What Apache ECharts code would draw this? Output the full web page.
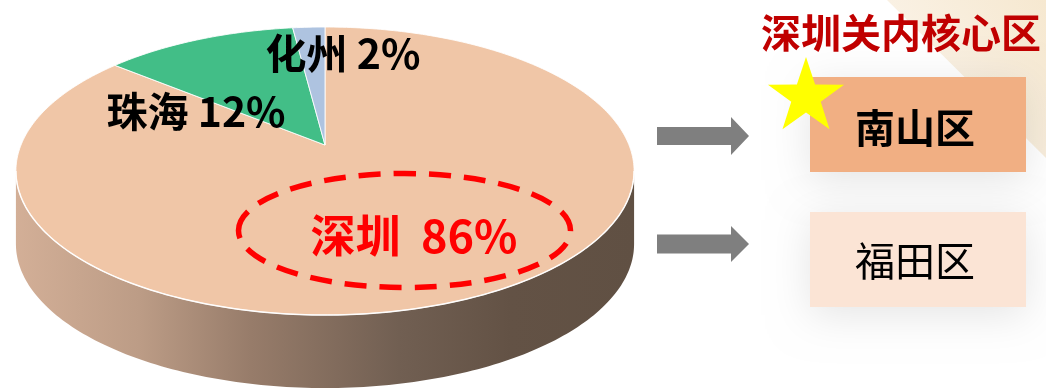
<!DOCTYPE html>
<html><head><meta charset="utf-8">
<script src="https://cdn.jsdelivr.net/npm/echarts@6/dist/echarts.min.js"></script>
<style>html,body{margin:0;padding:0;background:#fff}#c{width:1046px;height:390px}</style>
</head><body><div id="c"></div>
<script>
// ---- data ----
const cities = ['深圳', '珠海', '化州'];
const shares = [86, 12, 2];
const sliceColors = ['#F0C6A7', '#42BE87', '#AEC3E0'];
const coreTitle = '深圳关内核心区';
const districts = ['南山区', '福田区'];

// ---- layout ----
const FONT = '"Noto Sans CJK SC", "Noto Sans", sans-serif';
const P = {cx: 325, cy: 145, A: 304, B: 139.3, k: 0.1806, depth: 73};
const labelLayout = [
  {x: 414, y: 236, size: 45, color: '#FF0000', gap: '  '},
  {x: 196, y: 111, size: 41, color: '#000000', gap: ' '},
  {x: 343, y: 53, size: 41, color: '#000000', gap: ' '}
];

function proj(theta, down) {
  const u = Math.sin(theta), v = -Math.cos(theta);
  const w = 1 - P.k * v;
  return [P.cx + P.A * u / w, P.cy + P.B * v / w + (down || 0)];
}
function arc(a0, a1, down, n) {
  const pts = [];
  for (let s = 0; s <= n; s++) pts.push(proj(a0 + (a1 - a0) * s / n, down));
  return pts;
}

function renderItem(params, api) {
  const i = params.dataIndex;
  const total = shares.reduce((a, b) => a + b, 0);
  let before = 0;
  for (let j = 0; j < i; j++) before += shares[j];
  const a0 = before / total * 2 * Math.PI;
  const a1 = (before + api.value(0)) / total * 2 * Math.PI;
  const children = [];
  const thR = Math.acos(-P.k), thL = 2 * Math.PI - thR;
  const s0 = Math.max(thR, a0), s1 = Math.min(thL, a1);
  if (s1 > s0) {
    const top = arc(s0, s1, 0, 160);
    const bot = arc(s1, s0, P.depth, 160);
    children.push({
      type: 'polygon', shape: {points: top.concat(bot)},
      style: {fill: {type: 'linear', x: 0, y: 0, x2: 1, y2: 0, colorStops: [
        {offset: 0, color: '#D3AF97'}, {offset: 0.2, color: '#BC9C86'},
        {offset: 0.38, color: '#977C6A'}, {offset: 0.62, color: '#715F52'},
        {offset: 0.8, color: '#635245'}, {offset: 1, color: '#605043'}]}}
    });
  }
  const pts = [[P.cx, P.cy]].concat(arc(a0, a1, 0, Math.max(4, Math.round((a1 - a0) * 60))));
  children.push({type: 'polygon', shape: {points: pts},
    style: {fill: sliceColors[i], stroke: 'rgba(255,255,255,0.85)', lineWidth: 1}});
  if (s1 > s0) {
    children.push({type: 'polyline', shape: {points: arc(s0, s1, 0, 160)},
      style: {fill: null, stroke: 'rgba(255,255,255,0.9)', lineWidth: 1.5}});
  }
  const L = labelLayout[i];
  children.push({type: 'text', x: L.x, y: L.y,
    style: {text: cities[i] + L.gap + api.value(0) + '%', fontFamily: FONT, fontWeight: 'bold',
      fontSize: L.size, fill: L.color, align: 'center', verticalAlign: 'middle'}});
  return {type: 'group', children};
}

function starPoints(cx, cy, R, r) {
  const p = [];
  for (let s = 0; s < 10; s++) {
    const a = -Math.PI / 2 + s * Math.PI / 5;
    const rr = s % 2 === 0 ? R : r;
    p.push([cx + rr * Math.cos(a), cy + rr * Math.sin(a)]);
  }
  return p;
}
function arrowPoints(x0, x1, x2, yc, sh, hh) {
  return [[x0, yc - sh], [x1, yc - sh], [x1, yc - hh], [x2, yc], [x1, yc + hh], [x1, yc + sh], [x0, yc + sh]];
}

const chart = echarts.init(document.getElementById('c'), null, {renderer: 'canvas'});
chart.setOption({
  backgroundColor: '#ffffff',
  animation: false,
  series: [{
    type: 'custom', coordinateSystem: 'none', silent: true,
    renderItem,
    data: shares.map((v, i) => ({name: cities[i], value: [v]}))
  }],
  graphic: [
    {type: 'polygon', z: 1, shape: {points: [[887, 0], [1046, 0], [1046, 158]]},
      style: {fill: {type: 'linear', x: 1, y: 0, x2: 0, y2: 0.6, colorStops: [
        {offset: 0, color: '#F6E8D0'}, {offset: 1, color: '#FBF4EA'}]}}},
    {type: 'ellipse', z: 100, shape: {cx: 404.5, cy: 230.5, rx: 166, ry: 57},
      style: {fill: null, stroke: '#FF0000', lineWidth: 5.5, lineDash: [22, 13]}},
    {type: 'rect', z: 100, shape: {x: 810, y: 77, width: 216, height: 95},
      style: {fill: '#F1AF83', shadowBlur: 40, shadowColor: 'rgba(0,0,0,0.10)', shadowOffsetY: 8}},
    {type: 'rect', z: 100, shape: {x: 810, y: 212, width: 216, height: 95},
      style: {fill: '#FBE4D5', shadowBlur: 40, shadowColor: 'rgba(0,0,0,0.10)', shadowOffsetY: 8}},
    {type: 'text', z: 101, x: 901, y: 33,
      style: {text: coreTitle, fontFamily: FONT, fontWeight: 'bold', fontSize: 40, fill: '#C00000', align: 'center', verticalAlign: 'middle'}},
    {type: 'text', z: 101, x: 915, y: 128,
      style: {text: districts[0], fontFamily: FONT, fontWeight: 'bold', fontSize: 40, fill: '#000', align: 'center', verticalAlign: 'middle'}},
    {type: 'text', z: 101, x: 915, y: 261,
      style: {text: districts[1], fontFamily: FONT, fontWeight: 'normal', fontSize: 40, fill: '#000', align: 'center', verticalAlign: 'middle'}},
    {type: 'polygon', z: 100, shape: {points: arrowPoints(657, 731, 749, 136, 9, 19)}, style: {fill: '#7F7F7F'}},
    {type: 'polygon', z: 100, shape: {points: arrowPoints(657, 731, 749, 244, 9.5, 18)}, style: {fill: '#7F7F7F'}},
    {type: 'polygon', z: 102, shape: {points: starPoints(806, 97, 40, 15.5)}, style: {fill: '#FFFF00'}}
  ]
});
</script>
</body></html>
